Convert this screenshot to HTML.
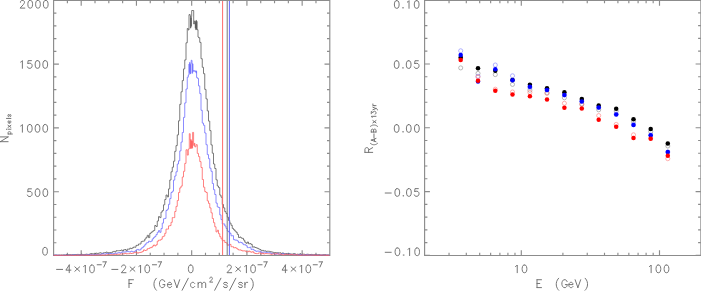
<!DOCTYPE html>
<html><head><meta charset="utf-8"><title>Pixel flux histogram and R(A-B) vs energy</title><style>
html,body{margin:0;padding:0;background:#fff;}
body{width:701px;height:291px;overflow:hidden;}
svg{display:block;}
text{font-family:"Liberation Sans",sans-serif;fill:#7a7a7a;text-anchor:middle;}
</style></head><body>
<svg width="701" height="291" viewBox="0 0 701 291">
<desc>Left: histogram of F (GeV/cm2/s/sr) vs N_pixels with black, blue and red curves. Right: R_(A-B)x13yr vs E (GeV), log scale 2-200.</desc>
<g fill="none" stroke="#8c8c8c" stroke-width="1.15">
<path d="M53.6,0.5H329.8V255.5H53.6Z"/>
<path d="M53.6,255.50h5.3M329.8,255.50h-5.3M53.6,242.74h2.8M329.8,242.74h-2.8M53.6,229.98h2.8M329.8,229.98h-2.8M53.6,217.22h2.8M329.8,217.22h-2.8M53.6,204.46h2.8M329.8,204.46h-2.8M53.6,191.70h5.3M329.8,191.70h-5.3M53.6,178.94h2.8M329.8,178.94h-2.8M53.6,166.18h2.8M329.8,166.18h-2.8M53.6,153.42h2.8M329.8,153.42h-2.8M53.6,140.66h2.8M329.8,140.66h-2.8M53.6,127.90h5.3M329.8,127.90h-5.3M53.6,115.14h2.8M329.8,115.14h-2.8M53.6,102.38h2.8M329.8,102.38h-2.8M53.6,89.62h2.8M329.8,89.62h-2.8M53.6,76.86h2.8M329.8,76.86h-2.8M53.6,64.10h5.3M329.8,64.10h-5.3M53.6,51.34h2.8M329.8,51.34h-2.8M53.6,38.58h2.8M329.8,38.58h-2.8M53.6,25.82h2.8M329.8,25.82h-2.8M53.6,13.06h2.8M329.8,13.06h-2.8M53.6,0.30h5.3M329.8,0.30h-5.3M67.39,255.5v-2.8M67.39,0.5v2.8M81.20,255.5v-5.3M81.20,0.5v5.3M95.01,255.5v-2.8M95.01,0.5v2.8M108.82,255.5v-2.8M108.82,0.5v2.8M122.63,255.5v-2.8M122.63,0.5v2.8M136.44,255.5v-5.3M136.44,0.5v5.3M150.25,255.5v-2.8M150.25,0.5v2.8M164.06,255.5v-2.8M164.06,0.5v2.8M177.87,255.5v-2.8M177.87,0.5v2.8M191.68,255.5v-5.3M191.68,0.5v5.3M205.49,255.5v-2.8M205.49,0.5v2.8M219.30,255.5v-2.8M219.30,0.5v2.8M233.11,255.5v-2.8M233.11,0.5v2.8M246.92,255.5v-5.3M246.92,0.5v5.3M260.73,255.5v-2.8M260.73,0.5v2.8M274.54,255.5v-2.8M274.54,0.5v2.8M288.35,255.5v-2.8M288.35,0.5v2.8M302.16,255.5v-5.3M302.16,0.5v5.3M315.97,255.5v-2.8M315.97,0.5v2.8"/>
<path d="M424.6,0.5H700.9V255.5H424.6Z"/>
<path d="M424.6,255.35h5.3M700.9,255.35h-5.3M424.6,242.59h2.8M700.9,242.59h-2.8M424.6,229.83h2.8M700.9,229.83h-2.8M424.6,217.07h2.8M700.9,217.07h-2.8M424.6,204.31h2.8M700.9,204.31h-2.8M424.6,191.55h5.3M700.9,191.55h-5.3M424.6,178.79h2.8M700.9,178.79h-2.8M424.6,166.03h2.8M700.9,166.03h-2.8M424.6,153.27h2.8M700.9,153.27h-2.8M424.6,140.51h2.8M700.9,140.51h-2.8M424.6,127.75h5.3M700.9,127.75h-5.3M424.6,114.99h2.8M700.9,114.99h-2.8M424.6,102.23h2.8M700.9,102.23h-2.8M424.6,89.47h2.8M700.9,89.47h-2.8M424.6,76.71h2.8M700.9,76.71h-2.8M424.6,63.95h5.3M700.9,63.95h-5.3M424.6,51.19h2.8M700.9,51.19h-2.8M424.6,38.43h2.8M700.9,38.43h-2.8M424.6,25.67h2.8M700.9,25.67h-2.8M424.6,12.91h2.8M700.9,12.91h-2.8M424.6,0.15h5.3M700.9,0.15h-5.3M449.04,255.5v-2.8M449.04,0.5v2.8M466.30,255.5v-2.8M466.30,0.5v2.8M479.70,255.5v-2.8M479.70,0.5v2.8M490.64,255.5v-2.8M490.64,0.5v2.8M499.89,255.5v-2.8M499.89,0.5v2.8M507.91,255.5v-2.8M507.91,0.5v2.8M514.98,255.5v-2.8M514.98,0.5v2.8M521.30,255.5v-5.3M521.30,0.5v5.3M562.90,255.5v-2.8M562.90,0.5v2.8M587.24,255.5v-2.8M587.24,0.5v2.8M604.50,255.5v-2.8M604.50,0.5v2.8M617.90,255.5v-2.8M617.90,0.5v2.8M628.84,255.5v-2.8M628.84,0.5v2.8M638.09,255.5v-2.8M638.09,0.5v2.8M646.11,255.5v-2.8M646.11,0.5v2.8M653.18,255.5v-2.8M653.18,0.5v2.8M659.50,255.5v-5.3M659.50,0.5v5.3"/>
</g>
<g fill="none" stroke-width="0.8">
<path d="M53.50,255.2H54.75V255.0H56.00V255.0H57.25V255.2H58.50V255.1H59.75V255.1H61.00V255.0H62.25V255.0H63.50V254.9H64.75V255.2H66.00V254.6H67.25V254.9H68.50V254.6H69.75V254.7H71.00V254.9H72.25V254.6H73.50V254.5H74.75V254.6H76.00V254.6H77.25V254.4H78.50V254.6H79.75V254.7H81.00V254.2H82.25V254.5H83.50V254.7H84.75V254.4H86.00V254.2H87.25V254.4H88.50V254.5H89.75V253.8H91.00V253.6H92.25V253.8H93.50V254.0H94.75V253.5H96.00V253.2H97.25V253.5H98.50V253.1H99.75V252.8H101.00V253.2H102.25V253.3H103.50V252.7H104.75V252.6H106.00V252.1H107.25V252.9H108.50V252.6H109.75V252.6H111.00V252.8H112.25V251.8H113.50V251.4H114.75V251.9H116.00V250.7H117.25V250.7H118.50V250.7H119.75V250.5H121.00V250.0H122.25V251.0H123.50V249.8H124.75V249.5H126.00V250.7H127.25V249.1H128.50V249.2H129.75V248.2H131.00V248.6H132.25V247.8H133.50V247.0H134.75V247.2H136.00V245.4H137.25V245.3H138.50V244.0H139.75V244.0H141.00V241.7H142.25V241.2H143.50V241.0H144.75V239.0H146.00V237.3H147.25V235.3H148.50V237.6H149.75V233.4H151.00V232.3H152.25V231.3H153.50V230.5H154.75V225.5H156.00V226.5H157.25V221.0H158.50V216.6H159.75V217.6H161.00V212.1H162.25V210.6H163.50V204.8H164.75V199.5H166.00V195.0H167.25V196.9H168.50V188.9H169.75V180.0H171.00V171.8H172.25V167.2H173.50V161.2H174.75V151.3H176.00V145.6H177.25V134.9H178.50V120.8H179.75V104.3H181.00V91.8H182.25V80.6H183.50V68.9H184.75V59.9H186.00V42.8H187.25V28.5H188.20V30.0H189.00V14.6H190.20V16.0H190.50V28.1H190.80V18.0H191.10V26.3H191.40V16.5H191.70V10.5H193.70V24.0H194.40V21.0H195.00V21.0H195.29V28.2H195.57V22.4H195.86V29.8H196.14V20.4H196.43V29.1H196.71V21.3H197.00V29.7H198.00V37.0H198.50V37.7H199.75V42.4H201.00V58.7H202.25V67.3H203.50V73.7H204.75V89.4H206.00V98.9H207.25V110.9H208.50V121.1H209.75V130.6H211.00V144.9H212.25V153.2H213.50V164.0H214.75V168.5H216.00V179.8H217.25V186.0H218.50V187.6H219.75V195.1H221.00V197.2H222.25V204.5H223.50V207.9H224.75V211.6H226.00V213.5H227.25V217.2H228.50V220.5H229.75V223.1H231.00V225.3H232.25V228.4H233.50V229.7H234.75V231.0H236.00V232.3H237.25V234.4H238.50V237.5H239.75V237.0H241.00V238.0H242.25V238.4H243.50V240.1H244.75V242.2H246.00V243.3H247.25V242.0H248.50V243.8H249.75V243.6H251.00V244.4H252.25V247.1H253.50V246.8H254.75V247.5H256.00V247.8H257.25V248.4H258.50V249.0H259.75V249.5H261.00V250.8H262.25V250.4H263.50V251.0H264.75V250.9H266.00V251.4H267.25V251.2H268.50V251.3H269.75V251.7H271.00V251.9H272.25V252.2H273.50V252.6H274.75V252.6H276.00V252.8H277.25V252.7H278.50V252.9H279.75V252.8H281.00V253.6H282.25V252.9H283.50V253.6H284.75V253.7H286.00V253.6H287.25V253.8H288.50V253.6H289.75V254.0H291.00V254.1H292.25V254.1H293.50V253.6H294.75V254.0H296.00V254.4H297.25V254.1H298.50V254.6H299.75V253.7H301.00V254.7H302.25V254.2H303.50V254.2H304.75V254.7H306.00V254.4H307.25V254.2H308.50V254.5H309.75V254.5H311.00V254.4H312.25V254.6H313.50V254.6H314.75V254.7H316.00V254.6H317.25V255.0H318.50V254.6H319.75V255.0H321.00V255.1H322.25V254.9H323.50V254.6H324.75V254.7H326.00V255.0H327.25V254.9H328.50V255.1H329.50" stroke="#5a5a5a"/>
<path d="M53.50,255.2H54.75V255.1H56.00V255.2H57.25V255.2H58.50V255.1H59.75V255.4H61.00V255.4H62.25V255.4H63.50V255.2H64.75V255.1H66.00V255.2H67.25V255.1H68.50V255.4H69.75V255.1H71.00V255.2H72.25V254.9H73.50V255.0H74.75V255.0H76.00V255.1H77.25V255.0H78.50V254.9H79.75V255.1H81.00V255.1H82.25V255.0H83.50V255.0H84.75V255.0H86.00V254.9H87.25V255.0H88.50V254.6H89.75V255.1H91.00V254.5H92.25V254.7H93.50V254.7H94.75V254.9H96.00V254.5H97.25V254.5H98.50V254.4H99.75V254.5H101.00V254.2H102.25V253.6H103.50V254.0H104.75V254.2H106.00V253.6H107.25V253.8H108.50V253.6H109.75V253.5H111.00V253.7H112.25V254.1H113.50V253.5H114.75V253.1H116.00V253.3H117.25V252.9H118.50V252.6H119.75V253.1H121.00V252.3H122.25V251.9H123.50V252.1H124.75V251.9H126.00V251.8H127.25V251.3H128.50V251.8H129.75V251.7H131.00V251.2H132.25V251.7H133.50V251.8H134.75V251.0H136.00V249.9H137.25V249.4H138.50V250.1H139.75V249.8H141.00V248.2H142.25V247.3H143.50V246.2H144.75V244.7H146.00V243.0H147.25V242.6H148.50V241.2H149.75V241.7H151.00V241.1H152.25V238.9H153.50V237.6H154.75V236.4H156.00V234.6H157.25V232.3H158.50V230.6H159.75V232.3H161.00V228.6H162.25V223.1H163.50V218.8H164.75V218.4H166.00V210.5H167.25V209.2H168.50V204.3H169.75V198.6H171.00V192.5H172.25V191.2H173.50V180.1H174.75V176.0H176.00V171.8H177.25V164.0H178.50V160.8H179.75V150.9H181.00V142.1H182.25V132.5H183.50V117.4H184.75V102.9H186.00V89.0H187.25V77.2H188.30V75.0H189.00V64.0H189.31V72.5H189.63V62.4H189.94V73.9H190.26V64.6H190.57V73.5H190.89V63.6H191.20V60.3H192.00V63.6H192.30V73.3H192.60V63.8H192.90V71.6H193.20V70.6H194.60V71.5H195.80V70.7H196.07V73.1H196.33V71.2H196.60V77.5H197.40V78.4H198.50V85.9H199.75V93.6H201.00V110.3H202.25V123.1H203.50V125.3H204.75V133.0H206.00V144.7H207.25V154.6H208.50V158.7H209.75V168.2H211.00V171.3H212.25V183.5H213.50V189.7H214.75V194.5H216.00V203.1H217.25V206.9H218.50V207.5H219.75V214.9H221.00V219.6H222.25V223.9H223.50V223.9H224.75V226.0H226.00V228.4H227.25V231.0H228.50V231.9H229.75V233.3H231.00V235.8H232.25V235.7H233.50V239.6H234.75V240.1H236.00V240.1H237.25V241.0H238.50V242.7H239.75V242.2H241.00V242.5H242.25V243.8H243.50V244.7H244.75V244.8H246.00V245.8H247.25V247.6H248.50V247.6H249.75V247.2H251.00V249.4H252.25V249.2H253.50V250.0H254.75V250.8H256.00V251.3H257.25V251.0H258.50V251.2H259.75V251.5H261.00V252.6H262.25V252.3H263.50V252.2H264.75V252.2H266.00V252.4H267.25V252.6H268.50V252.6H269.75V252.8H271.00V253.6H272.25V253.3H273.50V253.7H274.75V254.2H276.00V254.2H277.25V253.2H278.50V254.2H279.75V254.5H281.00V254.2H282.25V253.6H283.50V254.2H284.75V254.1H286.00V254.4H287.25V254.4H288.50V254.1H289.75V254.2H291.00V254.5H292.25V254.4H293.50V254.4H294.75V254.7H296.00V254.6H297.25V254.7H298.50V254.9H299.75V254.6H301.00V254.9H302.25V255.0H303.50V255.2H304.75V255.1H306.00V254.6H307.25V255.1H308.50V254.9H309.75V255.1H311.00V255.0H312.25V255.0H313.50V255.2H314.75V255.1H316.00V255.1H317.25V255.1H318.50V255.1H319.75V255.1H321.00V255.0H322.25V255.0H323.50V255.1H324.75V255.2H326.00V255.1H327.25V255.2H328.50V255.1H329.50" stroke="#6f6fff"/>
<path d="M53.50,255.2H54.75V255.5H56.00V255.4H57.25V255.4H58.50V255.2H59.75V255.4H61.00V255.2H62.25V255.4H63.50V255.4H64.75V255.4H66.00V255.4H67.25V255.4H68.50V255.4H69.75V255.2H71.00V255.2H72.25V255.4H73.50V255.4H74.75V255.5H76.00V255.1H77.25V255.4H78.50V255.1H79.75V255.2H81.00V255.1H82.25V255.1H83.50V255.2H84.75V255.1H86.00V255.4H87.25V255.1H88.50V255.4H89.75V255.1H91.00V255.0H92.25V255.1H93.50V255.2H94.75V255.2H96.00V255.1H97.25V254.9H98.50V254.9H99.75V255.1H101.00V255.2H102.25V254.9H103.50V255.2H104.75V255.0H106.00V255.0H107.25V254.7H108.50V254.7H109.75V254.7H111.00V254.7H112.25V254.9H113.50V254.5H114.75V254.2H116.00V254.5H117.25V254.2H118.50V254.4H119.75V254.0H121.00V254.0H122.25V253.8H123.50V253.8H124.75V253.3H126.00V253.8H127.25V253.7H128.50V253.7H129.75V253.1H131.00V253.5H132.25V253.3H133.50V252.7H134.75V252.3H136.00V252.3H137.25V253.2H138.50V252.6H139.75V252.4H141.00V252.2H142.25V251.4H143.50V249.9H144.75V250.5H146.00V250.1H147.25V248.7H148.50V248.5H149.75V247.7H151.00V247.6H152.25V246.2H153.50V245.0H154.75V245.9H156.00V244.8H157.25V241.2H158.50V240.2H159.75V240.1H161.00V239.2H162.25V236.7H163.50V236.1H164.75V233.3H166.00V229.1H167.25V229.1H168.50V225.9H169.75V225.6H171.00V222.3H172.25V217.6H173.50V217.6H174.75V211.5H176.00V206.4H177.25V200.5H178.50V192.5H179.75V187.9H181.00V186.1H182.25V177.0H183.50V171.3H184.75V163.4H186.00V149.8H187.25V155.1H188.30V149.0H189.30V133.7H190.20V140.1H190.50V148.5H190.80V139.5H191.10V148.4H191.40V140.8H191.70V147.1H192.00V141.2H192.30V148.2H192.60V132.4H193.60V145.4H194.60V143.1H194.75V146.8H196.00V144.7H197.25V153.4H198.50V156.6H199.75V161.6H201.00V167.5H202.25V179.5H203.50V187.2H204.75V191.6H206.00V192.5H207.25V200.9H208.50V203.4H209.75V207.9H211.00V212.8H212.25V218.5H213.50V222.7H214.75V226.8H216.00V231.9H217.25V230.2H218.50V233.7H219.75V236.7H221.00V238.8H222.25V240.8H223.50V240.4H224.75V242.5H226.00V242.9H227.25V245.3H228.50V244.7H229.75V244.4H231.00V246.7H232.25V246.7H233.50V247.8H234.75V247.6H236.00V248.2H237.25V249.2H238.50V250.0H239.75V249.9H241.00V250.4H242.25V251.0H243.50V250.8H244.75V251.0H246.00V251.9H247.25V251.8H248.50V251.0H249.75V251.8H251.00V252.2H252.25V251.7H253.50V252.8H254.75V253.5H256.00V253.6H257.25V253.6H258.50V252.9H259.75V252.8H261.00V254.0H262.25V253.1H263.50V254.0H264.75V253.6H266.00V253.6H267.25V253.7H268.50V253.8H269.75V254.0H271.00V254.4H272.25V254.0H273.50V253.8H274.75V254.0H276.00V253.7H277.25V254.0H278.50V254.2H279.75V254.0H281.00V254.4H282.25V254.9H283.50V255.0H284.75V254.2H286.00V254.5H287.25V254.5H288.50V254.7H289.75V254.6H291.00V254.4H292.25V254.7H293.50V255.0H294.75V254.9H296.00V254.6H297.25V255.1H298.50V255.2H299.75V255.2H301.00V255.2H302.25V254.9H303.50V255.0H304.75V255.1H306.00V255.2H307.25V255.1H308.50V255.1H309.75V255.1H311.00V255.1H312.25V255.2H313.50V254.9H314.75V255.4H316.00V255.1H317.25V255.4H318.50V255.1H319.75V255.2H321.00V255.1H322.25V255.1H323.50V255.2H324.75V255.1H326.00V255.5H327.25V255.1H328.50V255.4H329.50" stroke="#ff6262"/>
<path d="M222.6,1V255" stroke="#ff6a6a" stroke-width="1"/>
<path d="M227.2,1V255" stroke="#777" stroke-width="1"/>
<path d="M229.4,1V255" stroke="#6666ff" stroke-width="1"/>
</g>
<path d="M20.44,2.26L20.44,1.89L20.77,1.17L21.11,0.80L21.78,0.43L23.12,0.43L23.79,0.80L24.13,1.17L24.47,1.89L24.47,2.62L24.13,3.35L23.46,4.45L20.10,8.10L24.80,8.10M29.88,0.43L28.87,0.80L28.20,1.89L27.87,3.72L27.87,4.81L28.20,6.64L28.87,7.73L29.88,8.10L30.55,8.10L31.56,7.73L32.23,6.64L32.57,4.81L32.57,3.72L32.23,1.89L31.56,0.80L30.55,0.43L29.88,0.43M37.65,0.43L36.64,0.80L35.97,1.89L35.63,3.72L35.63,4.81L35.97,6.64L36.64,7.73L37.65,8.10L38.32,8.10L39.33,7.73L40.00,6.64L40.33,4.81L40.33,3.72L40.00,1.89L39.33,0.80L38.32,0.43L37.65,0.43M45.41,0.43L44.41,0.80L43.73,1.89L43.40,3.72L43.40,4.81L43.73,6.64L44.41,7.73L45.41,8.10L46.09,8.10L47.09,7.73L47.76,6.64L48.10,4.81L48.10,3.72L47.76,1.89L47.09,0.80L46.09,0.43L45.41,0.43M20.70,62.09L21.37,61.73L22.38,60.63L22.38,68.30M31.46,60.63L28.10,60.63L27.76,63.92L28.10,63.55L29.11,63.19L30.11,63.19L31.12,63.55L31.79,64.28L32.13,65.38L32.13,66.11L31.79,67.20L31.12,67.94L30.11,68.30L29.11,68.30L28.10,67.94L27.76,67.57L27.43,66.84M37.18,60.63L36.17,61.00L35.50,62.09L35.16,63.92L35.16,65.02L35.50,66.84L36.17,67.94L37.18,68.30L37.85,68.30L38.86,67.94L39.53,66.84L39.86,65.02L39.86,63.92L39.53,62.09L38.86,61.00L37.85,60.63L37.18,60.63M44.91,60.63L43.91,61.00L43.23,62.09L42.90,63.92L42.90,65.02L43.23,66.84L43.91,67.94L44.91,68.30L45.59,68.30L46.59,67.94L47.26,66.84L47.60,65.02L47.60,63.92L47.26,62.09L46.59,61.00L45.59,60.63L44.91,60.63M20.70,125.99L21.37,125.63L22.38,124.53L22.38,132.20M29.44,124.53L28.44,124.90L27.76,125.99L27.43,127.82L27.43,128.91L27.76,130.74L28.44,131.83L29.44,132.20L30.11,132.20L31.12,131.83L31.79,130.74L32.13,128.91L32.13,127.82L31.79,125.99L31.12,124.90L30.11,124.53L29.44,124.53M37.18,124.53L36.17,124.90L35.50,125.99L35.16,127.82L35.16,128.91L35.50,130.74L36.17,131.83L37.18,132.20L37.85,132.20L38.86,131.83L39.53,130.74L39.86,128.91L39.86,127.82L39.53,125.99L38.86,124.90L37.85,124.53L37.18,124.53M44.91,124.53L43.91,124.90L43.23,125.99L42.90,127.82L42.90,128.91L43.23,130.74L43.91,131.83L44.91,132.20L45.59,132.20L46.59,131.83L47.26,130.74L47.60,128.91L47.60,127.82L47.26,125.99L46.59,124.90L45.59,124.53L44.91,124.53M31.43,188.84L28.07,188.84L27.74,192.12L28.07,191.75L29.08,191.39L30.09,191.39L31.09,191.75L31.77,192.49L32.10,193.58L32.10,194.31L31.77,195.41L31.09,196.13L30.09,196.50L29.08,196.50L28.07,196.13L27.74,195.77L27.40,195.04M37.21,188.84L36.21,189.20L35.54,190.29L35.20,192.12L35.20,193.22L35.54,195.04L36.21,196.13L37.21,196.50L37.89,196.50L38.89,196.13L39.56,195.04L39.90,193.22L39.90,192.12L39.56,190.29L38.89,189.20L37.89,188.84L37.21,188.84M45.01,188.84L44.01,189.20L43.33,190.29L43.00,192.12L43.00,193.22L43.33,195.04L44.01,196.13L45.01,196.50L45.69,196.50L46.69,196.13L47.36,195.04L47.70,193.22L47.70,192.12L47.36,190.29L46.69,189.20L45.69,188.84L45.01,188.84M44.71,247.44L43.71,247.80L43.04,248.89L42.70,250.72L42.70,251.81L43.04,253.64L43.71,254.73L44.71,255.10L45.39,255.10L46.39,254.73L47.07,253.64L47.40,251.81L47.40,250.72L47.07,248.89L46.39,247.80L45.39,247.44L44.71,247.44M396.41,0.64L395.41,1.00L394.74,2.10L394.40,3.92L394.40,5.02L394.74,6.84L395.41,7.94L396.41,8.30L397.09,8.30L398.09,7.94L398.77,6.84L399.10,5.02L399.10,3.92L398.77,2.10L398.09,1.00L397.09,0.64L396.41,0.64M403.03,7.57L402.70,7.94L403.03,8.30L403.37,7.94L403.03,7.57M407.35,2.10L408.02,1.73L409.03,0.64L409.03,8.30M416.31,0.64L415.31,1.00L414.63,2.10L414.30,3.92L414.30,5.02L414.63,6.84L415.31,7.94L416.31,8.30L416.99,8.30L417.99,7.94L418.66,6.84L419.00,5.02L419.00,3.92L418.66,2.10L417.99,1.00L416.99,0.64L416.31,0.64M396.31,60.74L395.31,61.10L394.64,62.20L394.30,64.02L394.30,65.12L394.64,66.94L395.31,68.04L396.31,68.40L396.99,68.40L397.99,68.04L398.67,66.94L399.00,65.12L399.00,64.02L398.67,62.20L397.99,61.10L396.99,60.74L396.31,60.74M402.97,67.67L402.64,68.04L402.97,68.40L403.31,68.04L402.97,67.67M408.31,60.74L407.31,61.10L406.64,62.20L406.30,64.02L406.30,65.12L406.64,66.94L407.31,68.04L408.31,68.40L408.99,68.40L409.99,68.04L410.66,66.94L411.00,65.12L411.00,64.02L410.66,62.20L409.99,61.10L408.99,60.74L408.31,60.74M418.33,60.74L414.97,60.74L414.63,64.02L414.97,63.66L415.98,63.29L416.99,63.29L417.99,63.66L418.66,64.39L419.00,65.48L419.00,66.21L418.66,67.31L417.99,68.04L416.99,68.40L415.98,68.40L414.97,68.04L414.63,67.67L414.30,66.94M396.31,124.64L395.31,125.00L394.64,126.10L394.30,127.92L394.30,129.02L394.64,130.84L395.31,131.94L396.31,132.30L396.99,132.30L397.99,131.94L398.67,130.84L399.00,129.02L399.00,127.92L398.67,126.10L397.99,125.00L396.99,124.64L396.31,124.64M403.05,131.57L402.72,131.94L403.05,132.30L403.39,131.94L403.05,131.57M408.43,124.64L407.43,125.00L406.76,126.10L406.42,127.92L406.42,129.02L406.76,130.84L407.43,131.94L408.43,132.30L409.11,132.30L410.11,131.94L410.78,130.84L411.12,129.02L411.12,127.92L410.78,126.10L410.11,125.00L409.11,124.64L408.43,124.64M416.51,124.64L415.51,125.00L414.83,126.10L414.50,127.92L414.50,129.02L414.83,130.84L415.51,131.94L416.51,132.30L417.19,132.30L418.19,131.94L418.86,130.84L419.20,129.02L419.20,127.92L418.86,126.10L418.19,125.00L417.19,124.64L416.51,124.64M385.20,193.02L391.24,193.02M396.95,188.64L395.94,189.00L395.27,190.09L394.93,191.92L394.93,193.02L395.27,194.84L395.94,195.94L396.95,196.30L397.62,196.30L398.63,195.94L399.30,194.84L399.64,193.02L399.64,191.92L399.30,190.09L398.63,189.00L397.62,188.64L396.95,188.64M403.35,195.57L403.02,195.94L403.35,196.30L403.69,195.94L403.35,195.57M408.57,188.64L407.56,189.00L406.89,190.09L406.55,191.92L406.55,193.02L406.89,194.84L407.56,195.94L408.57,196.30L409.24,196.30L410.25,195.94L410.92,194.84L411.25,193.02L411.25,191.92L410.92,190.09L410.25,189.00L409.24,188.64L408.57,188.64M418.33,188.64L414.97,188.64L414.63,191.92L414.97,191.56L415.98,191.19L416.99,191.19L417.99,191.56L418.66,192.29L419.00,193.38L419.00,194.11L418.66,195.21L417.99,195.94L416.99,196.30L415.98,196.30L414.97,195.94L414.63,195.57L414.30,194.84M385.20,252.31L391.24,252.31M397.12,247.94L396.11,248.30L395.44,249.39L395.10,251.22L395.10,252.31L395.44,254.14L396.11,255.23L397.12,255.60L397.79,255.60L398.80,255.23L399.47,254.14L399.81,252.31L399.81,251.22L399.47,249.39L398.80,248.30L397.79,247.94L397.12,247.94M403.65,254.87L403.32,255.23L403.65,255.60L403.99,255.23L403.65,254.87M407.93,249.39L408.60,249.03L409.61,247.94L409.61,255.60M416.81,247.94L415.81,248.30L415.13,249.39L414.80,251.22L414.80,252.31L415.13,254.14L415.81,255.23L416.81,255.60L417.49,255.60L418.49,255.23L419.16,254.14L419.50,252.31L419.50,251.22L419.16,249.39L418.49,248.30L417.49,247.94L416.81,247.94M56.58,269.41L62.62,269.41M69.24,265.03L65.88,270.14L70.92,270.14M69.24,265.03L69.24,272.70M74.85,266.86L79.65,271.24M79.65,266.86L74.85,271.24M83.66,266.50L84.33,266.13L85.34,265.03L85.34,272.70M91.66,265.03L90.66,265.40L89.99,266.50L89.65,268.32L89.65,269.41L89.99,271.24L90.66,272.33L91.66,272.70L92.34,272.70L93.34,272.33L94.01,271.24L94.35,269.41L94.35,268.32L94.01,266.50L93.34,265.40L92.34,265.03L91.66,265.03M97.18,264.75L101.32,264.75M106.11,261.85L103.81,267.10M102.89,261.85L106.11,261.85M111.82,269.41L117.86,269.41M121.63,266.86L121.63,266.50L121.96,265.76L122.30,265.40L122.97,265.03L124.31,265.03L124.98,265.40L125.32,265.76L125.65,266.50L125.65,267.22L125.32,267.95L124.65,269.05L121.29,272.70L125.99,272.70M130.09,266.86L134.89,271.24M134.89,266.86L130.09,271.24M138.90,266.50L139.57,266.13L140.58,265.03L140.58,272.70M146.90,265.03L145.90,265.40L145.23,266.50L144.89,268.32L144.89,269.41L145.23,271.24L145.90,272.33L146.90,272.70L147.58,272.70L148.58,272.33L149.25,271.24L149.59,269.41L149.59,268.32L149.25,266.50L148.58,265.40L147.58,265.03L146.90,265.03M152.42,264.75L156.56,264.75M161.35,261.85L159.05,267.10M158.13,261.85L161.35,261.85M190.41,265.03L189.41,265.40L188.74,266.50L188.40,268.32L188.40,269.41L188.74,271.24L189.41,272.33L190.41,272.70L191.09,272.70L192.09,272.33L192.76,271.24L193.10,269.41L193.10,268.32L192.76,266.50L192.09,265.40L191.09,265.03L190.41,265.03M227.31,266.86L227.31,266.50L227.64,265.76L227.98,265.40L228.65,265.03L229.99,265.03L230.66,265.40L231.00,265.76L231.33,266.50L231.33,267.22L231.00,267.95L230.33,269.05L226.97,272.70L231.67,272.70M235.82,266.86L240.62,271.24M240.62,266.86L235.82,271.24M244.73,266.50L245.40,266.13L246.41,265.03L246.41,272.70M252.73,265.03L251.73,265.40L251.06,266.50L250.72,268.32L250.72,269.41L251.06,271.24L251.73,272.33L252.73,272.70L253.41,272.70L254.41,272.33L255.08,271.24L255.42,269.41L255.42,268.32L255.08,266.50L254.41,265.40L253.41,265.03L252.73,265.03M257.95,264.75L262.09,264.75M267.03,261.85L264.73,267.10M263.81,261.85L267.03,261.85M285.40,265.03L282.04,270.14L287.08,270.14M285.40,265.03L285.40,272.70M291.06,266.86L295.86,271.24M295.86,266.86L291.06,271.24M299.97,266.50L300.64,266.13L301.65,265.03L301.65,272.70M307.97,265.03L306.97,265.40L306.30,266.50L305.96,268.32L305.96,269.41L306.30,271.24L306.97,272.33L307.97,272.70L308.65,272.70L309.65,272.33L310.32,271.24L310.66,269.41L310.66,268.32L310.32,266.50L309.65,265.40L308.65,265.03L307.97,265.03M313.19,264.75L317.33,264.75M322.27,261.85L319.97,267.10M319.05,261.85L322.27,261.85M515.56,266.50L516.23,266.13L517.24,265.03L517.24,272.70M524.16,265.03L523.16,265.40L522.49,266.50L522.15,268.32L522.15,269.41L522.49,271.24L523.16,272.33L524.16,272.70L524.84,272.70L525.84,272.33L526.51,271.24L526.85,269.41L526.85,268.32L526.51,266.50L525.84,265.40L524.84,265.03L524.16,265.03M649.46,266.50L650.13,266.13L651.14,265.03L651.14,272.70M658.06,265.03L657.06,265.40L656.39,266.50L656.05,268.32L656.05,269.41L656.39,271.24L657.06,272.33L658.06,272.70L658.74,272.70L659.74,272.33L660.41,271.24L660.75,269.41L660.75,268.32L660.41,266.50L659.74,265.40L658.74,265.03L658.06,265.03M666.16,265.03L665.16,265.40L664.49,266.50L664.15,268.32L664.15,269.41L664.49,271.24L665.16,272.33L666.16,272.70L666.84,272.70L667.84,272.33L668.51,271.24L668.85,269.41L668.85,268.32L668.51,266.50L667.84,265.40L666.84,265.03L666.16,265.03M129.01,279.73L129.01,287.60M129.01,279.73L133.49,279.73M129.01,283.48L131.77,283.48M156.41,278.23L155.72,278.98L155.03,280.10L154.34,281.60L153.99,283.48L153.99,284.98L154.34,286.85L155.03,288.35L155.72,289.48L156.41,290.23M164.69,281.60L164.34,280.85L163.65,280.10L162.96,279.73L161.58,279.73L160.89,280.10L160.20,280.85L159.86,281.60L159.51,282.73L159.51,284.60L159.86,285.73L160.20,286.48L160.89,287.23L161.58,287.60L162.96,287.60L163.65,287.23L164.34,286.48L164.69,285.73L164.69,284.60M162.96,284.60L164.69,284.60M167.43,284.60L171.57,284.60L171.57,283.85L171.22,283.10L170.88,282.73L170.19,282.35L169.16,282.35L168.47,282.73L167.78,283.48L167.43,284.60L167.43,285.35L167.78,286.48L168.47,287.23L169.16,287.60L170.19,287.60L170.88,287.23L171.57,286.48M174.14,279.73L176.90,287.60M179.66,279.73L176.90,287.60M188.30,278.23L182.09,290.23M194.67,283.48L193.98,282.73L193.29,282.35L192.25,282.35L191.56,282.73L190.88,283.48L190.53,284.60L190.53,285.35L190.88,286.48L191.56,287.23L192.25,287.60L193.29,287.60L193.98,287.23L194.67,286.48M198.11,282.35L198.11,287.60M198.11,283.85L199.14,282.73L199.83,282.35L200.87,282.35L201.56,282.73L201.90,283.85L201.90,287.60M201.90,283.85L202.94,282.73L203.62,282.35L204.66,282.35L205.35,282.73L205.69,283.85L205.69,287.60M209.80,278.34L209.80,278.11L210.02,277.64L210.24,277.40L210.67,277.17L211.53,277.17L211.96,277.40L212.18,277.64L212.40,278.11L212.40,278.58L212.18,279.05L211.75,279.75L209.59,282.10L212.61,282.10M220.91,278.23L214.70,290.23M227.40,283.48L227.05,282.73L226.02,282.35L224.98,282.35L223.95,282.73L223.60,283.48L223.95,284.23L224.64,284.60L226.36,284.98L227.05,285.35L227.40,286.10L227.40,286.48L227.05,287.23L226.02,287.60L224.98,287.60L223.95,287.23L223.60,286.48M235.80,278.23L229.59,290.23M242.40,283.48L242.05,282.73L241.02,282.35L239.98,282.35L238.95,282.73L238.60,283.48L238.95,284.23L239.64,284.60L241.36,284.98L242.05,285.35L242.40,286.10L242.40,286.48L242.05,287.23L241.02,287.60L239.98,287.60L238.95,287.23L238.60,286.48M244.92,282.35L244.92,287.60M244.92,284.60L245.27,283.48L245.96,282.73L246.65,282.35L247.68,282.35M250.79,278.23L251.48,278.98L252.17,280.10L252.86,281.60L253.21,283.48L253.21,284.98L252.86,286.85L252.17,288.35L251.48,289.48L250.79,290.23M537.01,279.73L537.01,287.60M537.01,279.73L541.49,279.73M537.01,283.48L539.77,283.48M537.01,287.60L541.49,287.60M558.71,278.23L558.02,278.98L557.33,280.10L556.64,281.60L556.29,283.48L556.29,284.98L556.64,286.85L557.33,288.35L558.02,289.48L558.71,290.23M567.09,281.60L566.74,280.85L566.05,280.10L565.36,279.73L563.98,279.73L563.29,280.10L562.60,280.85L562.26,281.60L561.91,282.73L561.91,284.60L562.26,285.73L562.60,286.48L563.29,287.23L563.98,287.60L565.36,287.60L566.05,287.23L566.74,286.48L567.09,285.73L567.09,284.60M565.36,284.60L567.09,284.60M568.83,284.60L572.97,284.60L572.97,283.85L572.62,283.10L572.28,282.73L571.59,282.35L570.55,282.35L569.87,282.73L569.17,283.48L568.83,284.60L568.83,285.35L569.17,286.48L569.87,287.23L570.55,287.60L571.59,287.60L572.28,287.23L572.97,286.48M575.14,279.73L577.90,287.60M580.66,279.73L577.90,287.60M585.09,278.23L585.78,278.98L586.47,280.10L587.16,281.60L587.51,283.48L587.51,284.98L587.16,286.85L586.47,288.35L585.78,289.48L585.09,290.23M0.33,141.68L8.10,141.68M0.33,141.68L8.10,136.92M0.33,136.92L8.10,136.92M7.96,134.00L12.37,134.00M8.59,134.00L8.17,133.61L7.96,133.23L7.96,132.65L8.17,132.26L8.59,131.87L9.22,131.68L9.64,131.68L10.27,131.87L10.69,132.26L10.90,132.65L10.90,133.23L10.69,133.61L10.27,134.00M6.49,129.42L6.70,129.23L6.49,129.04L6.28,129.23L6.49,129.42M7.96,129.23L10.90,129.23M7.96,127.42L10.90,125.29M7.96,125.29L10.90,127.42M9.22,123.15L9.22,120.83L8.80,120.83L8.38,121.03L8.17,121.22L7.96,121.60L7.96,122.18L8.17,122.57L8.59,122.96L9.22,123.15L9.64,123.15L10.27,122.96L10.69,122.57L10.90,122.18L10.90,121.60L10.69,121.22L10.27,120.83M6.49,118.44L10.90,118.44M8.59,114.50L8.17,114.69L7.96,115.27L7.96,115.85L8.17,116.43L8.59,116.63L9.01,116.43L9.22,116.05L9.43,115.08L9.64,114.69L10.06,114.50L10.27,114.50L10.69,114.69L10.90,115.27L10.90,115.85L10.69,116.43L10.27,116.63M364.93,152.38L372.70,152.38M364.93,152.38L364.93,149.32L365.30,148.30L365.67,147.96L366.41,147.62L367.15,147.62L367.89,147.96L368.26,148.30L368.63,149.32L368.63,152.38M368.63,150.00L372.70,147.62M370.38,143.28L370.82,143.69L371.50,144.10L372.40,144.52L373.52,144.72L374.43,144.72L375.55,144.52L376.45,144.10L377.12,143.69L377.57,143.28M371.27,140.10L376.00,141.76M371.27,140.10L376.00,138.44M374.43,141.13L374.43,139.06M373.98,137.61L373.98,133.89M371.27,132.05L376.00,132.05M371.27,132.05L371.27,130.19L371.50,129.56L371.73,129.36L372.18,129.15L372.62,129.15L373.07,129.36L373.30,129.56L373.52,130.19M373.52,132.05L373.52,130.19L373.75,129.56L373.98,129.36L374.43,129.15L375.10,129.15L375.55,129.36L375.77,129.56L376.00,130.19L376.00,132.05M370.38,126.47L370.82,126.06L371.50,125.65L372.40,125.23L373.52,125.03L374.43,125.03L375.55,125.23L376.45,125.65L377.12,126.06L377.57,126.47M372.85,122.84L376.00,120.56M372.85,120.56L376.00,122.84M372.18,117.37L371.95,116.95L371.27,116.33L376.00,116.33M371.27,113.73L371.27,111.46L373.07,112.70L373.07,112.08L373.30,111.67L373.52,111.46L374.20,111.25L374.65,111.25L375.32,111.46L375.77,111.87L376.00,112.49L376.00,113.11L375.77,113.73L375.55,113.94L375.10,114.15M372.85,109.74L376.00,108.50M372.85,107.25L376.00,108.50L376.90,108.91L377.35,109.32L377.57,109.74L377.57,109.95M372.85,105.63L376.00,105.63M374.20,105.63L373.52,105.42L373.07,105.01L372.85,104.59L372.85,103.97" fill="none" stroke="#6e6e6e" stroke-width="0.95" stroke-linecap="round" stroke-linejoin="round"/>
<circle cx="460.7" cy="67.9" r="2.05" fill="none" stroke="#777" stroke-width="0.5"/><circle cx="460.7" cy="50.8" r="2.05" fill="none" stroke="#66f" stroke-width="0.5"/><circle cx="460.7" cy="58.0" r="2.05" fill="none" stroke="#f66" stroke-width="0.5"/><circle cx="478.0" cy="73.4" r="2.05" fill="none" stroke="#777" stroke-width="0.5"/><circle cx="478.0" cy="76.3" r="2.05" fill="none" stroke="#66f" stroke-width="0.5"/><circle cx="478.0" cy="77.0" r="2.05" fill="none" stroke="#f66" stroke-width="0.5"/><circle cx="495.3" cy="74.6" r="2.05" fill="none" stroke="#777" stroke-width="0.5"/><circle cx="495.3" cy="65.0" r="2.05" fill="none" stroke="#66f" stroke-width="0.5"/><circle cx="495.3" cy="89.2" r="2.05" fill="none" stroke="#f66" stroke-width="0.5"/><circle cx="512.5" cy="84.4" r="2.05" fill="none" stroke="#777" stroke-width="0.5"/><circle cx="512.5" cy="75.8" r="2.05" fill="none" stroke="#66f" stroke-width="0.5"/><circle cx="512.5" cy="92.0" r="2.05" fill="none" stroke="#f66" stroke-width="0.5"/><circle cx="529.9" cy="90.2" r="2.05" fill="none" stroke="#777" stroke-width="0.5"/><circle cx="529.9" cy="87.5" r="2.05" fill="none" stroke="#66f" stroke-width="0.5"/><circle cx="529.9" cy="92.4" r="2.05" fill="none" stroke="#f66" stroke-width="0.5"/><circle cx="547.0" cy="92.8" r="2.05" fill="none" stroke="#777" stroke-width="0.5"/><circle cx="547.0" cy="90.0" r="2.05" fill="none" stroke="#66f" stroke-width="0.5"/><circle cx="547.0" cy="93.4" r="2.05" fill="none" stroke="#f66" stroke-width="0.5"/><circle cx="564.4" cy="97.8" r="2.05" fill="none" stroke="#777" stroke-width="0.5"/><circle cx="564.4" cy="95.0" r="2.05" fill="none" stroke="#66f" stroke-width="0.5"/><circle cx="564.4" cy="103.3" r="2.05" fill="none" stroke="#f66" stroke-width="0.5"/><circle cx="581.8" cy="104.0" r="2.05" fill="none" stroke="#777" stroke-width="0.5"/><circle cx="581.8" cy="101.0" r="2.05" fill="none" stroke="#66f" stroke-width="0.5"/><circle cx="581.8" cy="104.4" r="2.05" fill="none" stroke="#f66" stroke-width="0.5"/><circle cx="598.7" cy="109.8" r="2.05" fill="none" stroke="#777" stroke-width="0.5"/><circle cx="598.7" cy="107.5" r="2.05" fill="none" stroke="#66f" stroke-width="0.5"/><circle cx="598.7" cy="115.6" r="2.05" fill="none" stroke="#f66" stroke-width="0.5"/><circle cx="616.2" cy="111.0" r="2.05" fill="none" stroke="#777" stroke-width="0.5"/><circle cx="616.2" cy="114.0" r="2.05" fill="none" stroke="#66f" stroke-width="0.5"/><circle cx="616.2" cy="124.4" r="2.05" fill="none" stroke="#f66" stroke-width="0.5"/><circle cx="633.5" cy="121.5" r="2.05" fill="none" stroke="#777" stroke-width="0.5"/><circle cx="633.5" cy="124.5" r="2.05" fill="none" stroke="#66f" stroke-width="0.5"/><circle cx="633.5" cy="134.8" r="2.05" fill="none" stroke="#f66" stroke-width="0.5"/><circle cx="650.7" cy="131.6" r="2.05" fill="none" stroke="#777" stroke-width="0.5"/><circle cx="650.7" cy="135.0" r="2.05" fill="none" stroke="#66f" stroke-width="0.5"/><circle cx="650.7" cy="138.0" r="2.05" fill="none" stroke="#f66" stroke-width="0.5"/><circle cx="667.8" cy="146.0" r="2.05" fill="none" stroke="#777" stroke-width="0.5"/><circle cx="667.8" cy="152.0" r="2.05" fill="none" stroke="#66f" stroke-width="0.5"/><circle cx="667.8" cy="158.7" r="2.05" fill="none" stroke="#f66" stroke-width="0.5"/><circle cx="460.7" cy="57.6" r="2.25" fill="#000"/><circle cx="460.7" cy="54.9" r="2.25" fill="#00f"/><circle cx="460.7" cy="60.1" r="2.25" fill="#f00"/><circle cx="478.0" cy="68.3" r="2.25" fill="#000"/><circle cx="478.0" cy="81.4" r="2.25" fill="#00f"/><circle cx="478.0" cy="80.8" r="2.25" fill="#f00"/><circle cx="495.3" cy="70.8" r="2.25" fill="#000"/><circle cx="495.3" cy="69.2" r="2.25" fill="#00f"/><circle cx="495.3" cy="90.7" r="2.25" fill="#f00"/><circle cx="512.5" cy="79.9" r="2.25" fill="#000"/><circle cx="512.5" cy="80.2" r="2.25" fill="#00f"/><circle cx="512.5" cy="94.6" r="2.25" fill="#f00"/><circle cx="529.9" cy="84.7" r="2.25" fill="#000"/><circle cx="529.9" cy="86.8" r="2.25" fill="#00f"/><circle cx="529.9" cy="96.2" r="2.25" fill="#f00"/><circle cx="547.0" cy="88.2" r="2.25" fill="#000"/><circle cx="547.0" cy="90.1" r="2.25" fill="#00f"/><circle cx="547.0" cy="99.4" r="2.25" fill="#f00"/><circle cx="564.4" cy="92.3" r="2.25" fill="#000"/><circle cx="564.4" cy="95.0" r="2.25" fill="#00f"/><circle cx="564.4" cy="107.7" r="2.25" fill="#f00"/><circle cx="581.8" cy="99.0" r="2.25" fill="#000"/><circle cx="581.8" cy="101.6" r="2.25" fill="#00f"/><circle cx="581.8" cy="108.4" r="2.25" fill="#f00"/><circle cx="598.7" cy="105.4" r="2.25" fill="#000"/><circle cx="598.7" cy="107.4" r="2.25" fill="#00f"/><circle cx="598.7" cy="119.7" r="2.25" fill="#f00"/><circle cx="616.2" cy="108.7" r="2.25" fill="#000"/><circle cx="616.2" cy="114.4" r="2.25" fill="#00f"/><circle cx="616.2" cy="126.7" r="2.25" fill="#f00"/><circle cx="633.5" cy="119.3" r="2.25" fill="#000"/><circle cx="633.5" cy="124.9" r="2.25" fill="#00f"/><circle cx="633.5" cy="138.1" r="2.25" fill="#f00"/><circle cx="650.7" cy="128.9" r="2.25" fill="#000"/><circle cx="650.7" cy="135.3" r="2.25" fill="#00f"/><circle cx="650.7" cy="138.7" r="2.25" fill="#f00"/><circle cx="667.8" cy="143.4" r="2.25" fill="#000"/><circle cx="667.8" cy="152.0" r="2.25" fill="#00f"/><circle cx="667.8" cy="155.8" r="2.25" fill="#f00"/>
</svg>
</body></html>
